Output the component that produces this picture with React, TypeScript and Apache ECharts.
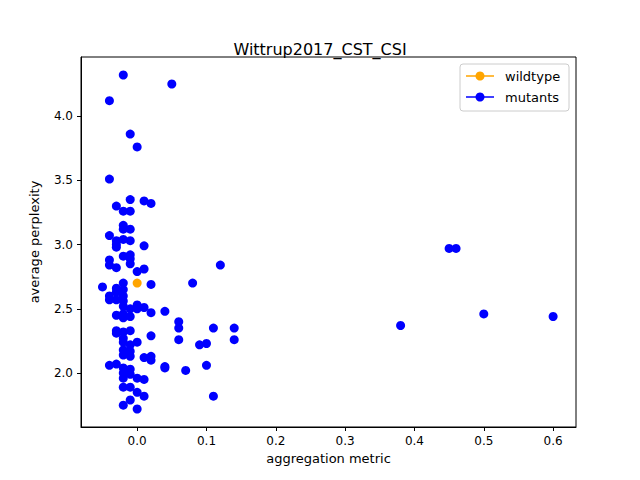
import * as echarts from "echarts";
import { useEffect, useRef } from "react";

const wildtype: [number, number][] = [[0.0, 2.7]];

const mutants: [number, number][] = [
  [-0.02, 4.32], [0.05, 4.25], [-0.04, 4.12], [-0.01, 3.86], [0.0, 3.76], [-0.04, 3.51],
  [-0.01, 3.35], [0.01, 3.34], [0.02, 3.32], [-0.03, 3.3], [-0.02, 3.26], [-0.01, 3.26],
  [-0.02, 3.15], [-0.02, 3.12], [-0.01, 3.12], [-0.04, 3.07], [-0.03, 3.03], [-0.02, 3.04],
  [-0.01, 3.03], [-0.03, 3.0], [0.01, 2.99], [-0.03, 2.98], [-0.02, 2.91], [-0.01, 2.92],
  [-0.01, 2.89], [-0.04, 2.88], [-0.04, 2.84], [-0.01, 2.85], [-0.03, 2.82], [0.01, 2.81],
  [0.0, 2.79], [0.12, 2.84], [0.45, 2.97], [0.46, 2.97], [0.08, 2.7], [0.02, 2.69],
  [-0.02, 2.7], [-0.05, 2.67], [-0.03, 2.66], [-0.02, 2.65], [-0.03, 2.63], [-0.04, 2.6],
  [-0.02, 2.6], [-0.04, 2.57], [-0.03, 2.57], [-0.02, 2.56], [-0.02, 2.52], [0.0, 2.53],
  [-0.01, 2.5], [0.0, 2.5], [0.01, 2.51], [0.04, 2.48], [0.02, 2.47], [-0.02, 2.46],
  [-0.03, 2.45], [-0.02, 2.43], [-0.01, 2.44], [0.06, 2.4], [0.06, 2.35], [0.11, 2.35],
  [0.14, 2.35], [0.38, 2.37], [0.5, 2.46], [0.6, 2.44], [-0.03, 2.33], [-0.03, 2.31],
  [-0.02, 2.32], [-0.01, 2.33], [0.02, 2.29], [-0.02, 2.27], [-0.02, 2.24], [0.0, 2.24],
  [-0.01, 2.22], [0.06, 2.26], [0.09, 2.22], [0.1, 2.23], [0.14, 2.26], [-0.02, 2.18],
  [-0.01, 2.17], [-0.02, 2.14], [-0.01, 2.13], [0.01, 2.12], [0.02, 2.13], [0.02, 2.1],
  [0.04, 2.05], [0.04, 2.04], [0.07, 2.02], [0.1, 2.06], [-0.04, 2.06], [-0.03, 2.07],
  [-0.02, 2.04], [-0.01, 2.03], [-0.02, 2.0], [-0.01, 1.99], [-0.02, 1.96], [0.0, 1.96],
  [0.01, 1.95], [-0.02, 1.89], [-0.01, 1.89], [0.0, 1.85], [0.01, 1.82], [-0.01, 1.79],
  [0.11, 1.82], [-0.02, 1.75], [0.0, 1.72],
];

const xTicks = [0, 0.1, 0.2, 0.3, 0.4, 0.5, 0.6];
const yTicks = [2.0, 2.5, 3.0, 3.5, 4.0];

const font = "DejaVu Sans";

export default function App() {
  const ref = useRef<HTMLDivElement>(null);

  useEffect(() => {
    const chart = echarts.init(ref.current!, null, { renderer: "svg" });
    const axisCommon = {
      axisLine: { show: true, onZero: false, lineStyle: { color: "#000" } },
      axisTick: { show: true, inside: false, length: 4, lineStyle: { color: "#000" } },
      splitLine: { show: false },
      nameLocation: "middle" as const,
      nameTextStyle: { fontFamily: font, fontSize: 13, color: "#000" },
    };
    chart.setOption({
      animation: false,
      title: {
        text: "Wittrup2017_CST_CSI",
        left: "center",
        top: 36,
        textStyle: { fontFamily: font, fontSize: 16, fontWeight: "normal", color: "#000" },
      },
      grid: { left: 81, right: 64, top: 57, bottom: 53, show: true, borderColor: "#000", borderWidth: 1 },
      xAxis: {
        ...axisCommon,
        type: "value",
        min: -0.081,
        max: 0.633,
        name: "aggregation metric",
        nameGap: 24,
        axisTick: { ...axisCommon.axisTick, customValues: xTicks },
        axisLabel: {
          customValues: xTicks,
          formatter: (v: number) => v.toFixed(1),
          fontFamily: font, fontSize: 12, color: "#000",
        },
      },
      yAxis: {
        ...axisCommon,
        type: "value",
        min: 1.58,
        max: 4.46,
        name: "average perplexity",
        nameGap: 40,
        axisTick: { ...axisCommon.axisTick, customValues: yTicks },
        axisLabel: {
          customValues: yTicks,
          formatter: (v: number) => v.toFixed(1),
          fontFamily: font, fontSize: 12, color: "#000",
        },
      },
      series: [
        { name: "mutants", type: "scatter", data: mutants, symbolSize: 9, itemStyle: { color: "#0000ff", opacity: 1 } },
        { name: "wildtype", type: "scatter", data: wildtype, symbolSize: 9, itemStyle: { color: "#ffa500", opacity: 1 } },
      ],
      graphic: [
        { type: "rect", shape: { x: 460, y: 64, width: 109, height: 47, r: 3 }, style: { fill: "#fff", stroke: "#ccc" } },
        { type: "line", shape: { x1: 466, y1: 76, x2: 494, y2: 76 }, style: { stroke: "#ffa500", lineWidth: 1.5 } },
        { type: "circle", shape: { cx: 480, cy: 76, r: 4.5 }, style: { fill: "#ffa500" } },
        { type: "text", x: 505, y: 76, style: { text: "wildtype", fontFamily: font, fontSize: 13, fill: "#000", verticalAlign: "middle" } },
        { type: "line", shape: { x1: 466, y1: 97, x2: 494, y2: 97 }, style: { stroke: "#0000ff", lineWidth: 1.5 } },
        { type: "circle", shape: { cx: 480, cy: 97, r: 4.5 }, style: { fill: "#0000ff" } },
        { type: "text", x: 505, y: 97, style: { text: "mutants", fontFamily: font, fontSize: 13, fill: "#000", verticalAlign: "middle" } },
      ],
    });
    return () => chart.dispose();
  }, []);

  return <div ref={ref} style={{ width: 640, height: 480, margin: -8, background: "#fff" }} />;
}
